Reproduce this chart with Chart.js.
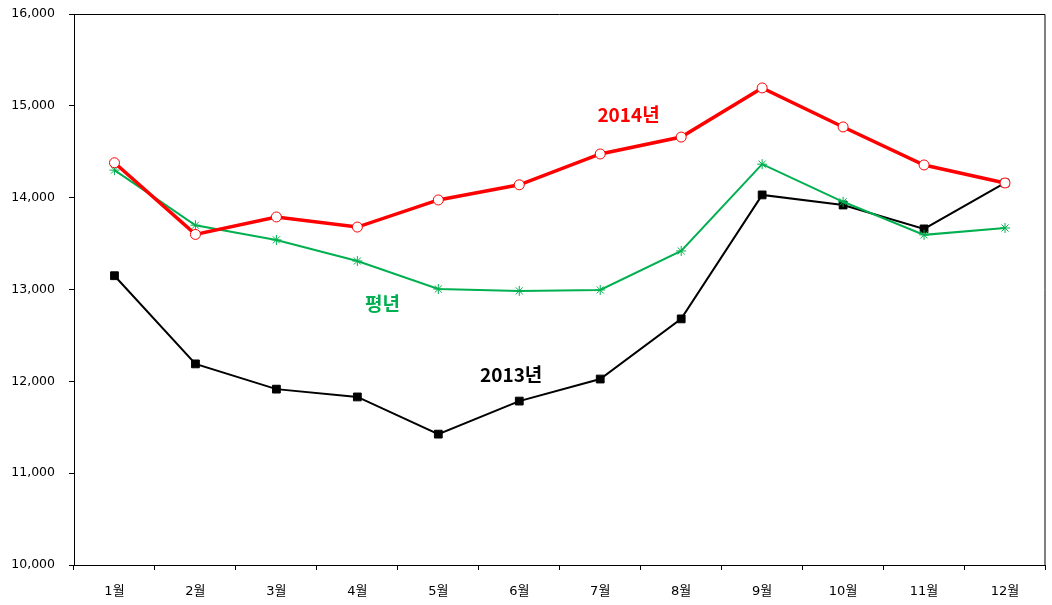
<!DOCTYPE html>
<html>
<head>
<meta charset="utf-8">
<script src="https://cdn.jsdelivr.net/npm/chart.js@4.4.1/dist/chart.umd.min.js"></script>
<style>
  html, body { margin: 0; padding: 0; background: #fff; }
  #wrap { width: 1052px; height: 605px; position: relative; }
</style>
</head>
<body>
<div id="wrap"><canvas id="chart"></canvas></div>
<script>
// 데이터
const months = ['1월', '2월', '3월', '4월', '5월', '6월', '7월', '8월', '9월', '10월', '11월', '12월'];
const y2014 = [14380, 13600, 13790, 13680, 13975, 14140, 14476, 14660, 15195, 14770, 14356, 14160];
const normal = [14300, 13700, 13540, 13310, 13005, 12985, 12995, 13420, 14365, 13955, 13595, 13670];
const y2013 = [13150, 12190, 11915, 11830, 11425, 11785, 12025, 12680, 14030, 13920, 13660, 14160];

// 계열 이름표 (카테고리 위치, 값)
const seriesLabels = ['2014년', '평년', '2013년'];
const labelPos = [[6.35, 14900], [3.31, 12840], [4.9, 12070]];
const labelColors = ['#ff0000', '#00b050', '#000000'];

const FONT = "'DejaVu Sans', 'Noto Sans CJK KR', sans-serif";

// 테두리 + 이름표 그리기
const extras = {
    id: 'extras',
    afterDatasetsDraw(chart) {
        const ctx = chart.ctx;
        const a = chart.chartArea;
        ctx.save();
        ctx.strokeStyle = '#000';
        ctx.lineWidth = 1;
        ctx.beginPath();
        ctx.moveTo(a.left, a.top + 0.5);
        ctx.lineTo(a.right - 0.5, a.top + 0.5);
        ctx.lineTo(a.right - 0.5, a.bottom);
        ctx.stroke();

        const xs = chart.scales.x, ys = chart.scales.y;
        ctx.font = "bold 19px 'Noto Sans CJK KR', sans-serif";
        ctx.textAlign = 'center';
        ctx.textBaseline = 'middle';
        seriesLabels.forEach((t, i) => {
            ctx.fillStyle = labelColors[i];
            ctx.fillText(t, xs.getPixelForValue(labelPos[i][0]), ys.getPixelForValue(labelPos[i][1]));
        });
        ctx.restore();
    }
};

new Chart(document.getElementById('chart'), {
    type: 'line',
    data: {
        labels: months,
        datasets: [
            {
                label: '2014년',
                data: y2014,
                borderColor: '#ff0000',
                borderWidth: 3.5,
                pointStyle: 'circle',
                pointRadius: 5,
                pointBackgroundColor: '#fff',
                pointBorderColor: '#ff0000',
                pointBorderWidth: 1,
                tension: 0
            },
            {
                label: '평년',
                data: normal,
                borderColor: '#00b050',
                borderWidth: 2,
                pointStyle: 'star',
                pointRadius: 5,
                pointBorderColor: '#00b050',
                pointBackgroundColor: '#00b050',
                pointBorderWidth: 1,
                tension: 0
            },
            {
                label: '2013년',
                data: y2013,
                borderColor: '#000',
                borderWidth: 2,
                pointStyle: 'rect',
                pointRadius: 5.5,
                pointBackgroundColor: '#000',
                pointBorderColor: '#000',
                pointBorderWidth: 1,
                tension: 0
            }
        ]
    },
    options: {
        responsive: true,
        maintainAspectRatio: false,
        animation: false,
        layout: { padding: { top: 14, right: 5, left: 0, bottom: 0 } },
        plugins: {
            legend: { display: false },
            tooltip: { enabled: false }
        },
        scales: {
            x: {
                offset: true,
                grid: { drawOnChartArea: false, offset: true, tickLength: 5, color: '#000' },
                border: { color: '#000', width: 1 },
                ticks: { color: '#000', font: { family: FONT, size: 13 }, padding: 14, maxRotation: 0 },
                afterFit(s) { s.height = 40; s.paddingLeft = 0; s.paddingRight = 0; }
            },
            y: {
                min: 10000,
                max: 16000,
                grid: { drawOnChartArea: false, tickLength: 5, color: '#000' },
                border: { color: '#000', width: 1 },
                ticks: {
                    stepSize: 1000,
                    color: '#000',
                    font: { family: FONT, size: 12.5 },
                    padding: 14,
                    callback: v => v.toLocaleString('en-US')
                },
                afterFit(s) { s.width = 74; s.paddingTop = 0; s.paddingBottom = 0; }
            }
        }
    },
    plugins: [extras]
});
</script>
</body>
</html>
